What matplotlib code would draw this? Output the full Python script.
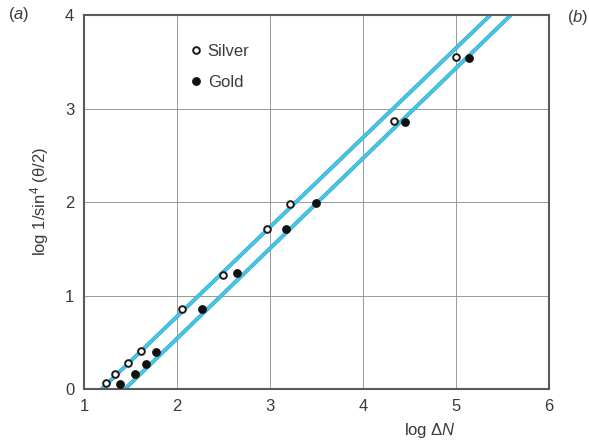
import matplotlib
matplotlib.use("Agg")
import matplotlib.pyplot as plt
import matplotlib.patheffects as pe

plt.rcParams['font.family'] = ['Liberation Sans', 'DejaVu Sans']
plt.rcParams['mathtext.fontset'] = 'custom'
plt.rcParams['mathtext.rm'] = 'Liberation Sans'
plt.rcParams['mathtext.it'] = 'Liberation Sans:italic'

# Data
silver_x = [1.24, 1.33, 1.47, 1.61, 2.05, 2.49, 2.97, 3.22, 4.33, 5.00]
silver_y = [0.06, 0.16, 0.275, 0.405, 0.86, 1.22, 1.71, 1.98, 2.87, 3.55]
gold_x = [1.39, 1.55, 1.67, 1.77, 2.27, 2.65, 3.17, 3.49, 4.45, 5.14]
gold_y = [0.05, 0.16, 0.27, 0.40, 0.86, 1.24, 1.71, 1.99, 2.86, 3.54]
silver_fit_x = [1.19, 5.37]
silver_fit_y = [0.0, 4.0]
gold_fit_x = [1.44, 5.59]
gold_fit_y = [0.0, 4.0]
xticks = [1, 2, 3, 4, 5, 6]
yticks = [0, 1, 2, 3, 4]

fig = plt.figure(figsize=(5.89, 4.48), dpi=100)
ax = fig.add_axes([0.1426, 0.1317, 0.7895, 0.8348])

line_color = '#45c6e8'
edge = [pe.Stroke(linewidth=2.8, foreground='#2aa3c8'), pe.Normal()]
ax.plot(silver_fit_x, silver_fit_y, color=line_color, lw=2.0, zorder=2,
        path_effects=edge, solid_capstyle='butt')
ax.plot(gold_fit_x, gold_fit_y, color=line_color, lw=2.0, zorder=2,
        path_effects=edge, solid_capstyle='butt')

ax.plot(silver_x, silver_y, 'o', ms=4.8, mfc='white', mec='#1a1a1a', mew=1.4,
        ls='none', zorder=3, label='Silver')
ax.plot(gold_x, gold_y, 'o', ms=5.3, mfc='#111111', mec='#111111', mew=1,
        ls='none', zorder=3, label='Gold')

ax.set_xlim(1, 6)
ax.set_ylim(0, 4)
ax.set_xticks(xticks)
ax.set_yticks(yticks)
ax.tick_params(length=0, labelsize=12, colors='#3a3a3a', pad=7)
ax.grid(True, color='#999999', lw=0.7)
ax.set_axisbelow(True)
for s in ax.spines.values():
    s.set_color('#5a5a5a')
    s.set_linewidth(1.5)

ax.set_xlabel(r'log $\Delta\mathit{N}$', fontsize=12, color='#3a3a3a')
ax.xaxis.set_label_coords(0.745, -0.085)
ax.set_ylabel('log 1/sin$^4$ (θ/2)', fontsize=12, color='#3a3a3a', labelpad=10)

leg = ax.legend(loc='upper left', bbox_to_anchor=(0.205, 0.94), frameon=False,
                fontsize=12, handletextpad=0.1, labelspacing=0.95,
                handlelength=1.2, borderaxespad=0)
for t in leg.get_texts():
    t.set_color('#3a3a3a')

fig.text(0.014, 0.967, r'($\mathit{a}$)', fontsize=12, color='#3a3a3a', va='center')
fig.text(0.962, 0.96, r'($\mathit{b}$)', fontsize=12, color='#3a3a3a', va='center')

fig.savefig('out.png', dpi=100)
